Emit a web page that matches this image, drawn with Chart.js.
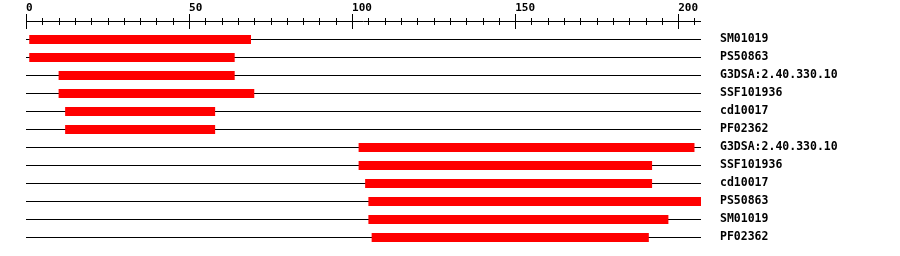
<!DOCTYPE html>
<html><head><meta charset="utf-8">
<script src="https://cdn.jsdelivr.net/npm/chart.js@4/dist/chart.umd.min.js"></script>
<style>html,body{margin:0;padding:0;background:#fff}#wrap{width:900px;height:256px}</style>
</head><body><div id="wrap"><canvas id="c" width="900" height="256"></canvas></div>
<script>
const labels = ['SM01019','PS50863','G3DSA:2.40.330.10','SSF101936','cd10017','PF02362','G3DSA:2.40.330.10','SSF101936','cd10017','PS50863','SM01019','PF02362'];
const domainStart = [1,1,10,10,12,12,102,102,104,105,105,106];
const domainEnd = [69,64,64,70,58,58,205,192,192,207,197,191];
const seqLength = 207;
const majorTicks = [0,50,100,150,200];
const minorTickStep = 5;

const axisPlugin = {
  id: 'seqAxis',
  afterDraw(chart) {
    const x = chart.scales.x, ctx = chart.ctx;
    ctx.save();
    ctx.strokeStyle = '#000';
    ctx.lineWidth = 1;
    ctx.beginPath();
    ctx.moveTo(Math.round(x.getPixelForValue(0)), 21.5);
    ctx.lineTo(Math.round(x.getPixelForValue(seqLength)), 21.5);
    for (let v = 0; v <= seqLength; v += minorTickStep) {
      const px = Math.round(x.getPixelForValue(v)) + 0.5;
      const major = majorTicks.includes(v);
      ctx.moveTo(px, major ? 14 : 18);
      ctx.lineTo(px, major ? 29 : 25);
    }
    ctx.stroke();
    ctx.restore();
  }
};

new Chart(document.getElementById('c'), {
  type: 'bar',
  data: {
    labels: labels,
    datasets: [
      {
        data: domainStart.map((s, i) => [s, domainEnd[i]]),
        backgroundColor: '#ff0000',
        borderWidth: 0,
        barThickness: 9,
        grouped: false,
        inflateAmount: 0,
        order: 0
      },
      {
        data: labels.map(() => [0, seqLength]),
        backgroundColor: '#000000',
        borderWidth: 0,
        barThickness: 1,
        grouped: false,
        inflateAmount: 0,
        order: 1
      }
    ]
  },
  options: {
    indexAxis: 'y',
    responsive: false,
    animation: false,
    devicePixelRatio: 1,
    layout: { padding: { left: 26, right: 0, top: 0, bottom: 9.5 } },
    plugins: { legend: { display: false }, tooltip: { enabled: false } },
    scales: {
      x: {
        type: 'linear',
        position: 'top',
        min: 0,
        max: seqLength,
        grid: { display: false, drawTicks: false },
        border: { display: false },
        ticks: {
          stepSize: 50,
          includeBounds: false,
          align: 'start',
          autoSkip: false,
          maxRotation: 0,
          padding: 15.5,
          color: '#000',
          font: { family: 'DejaVu Sans Mono', size: 11, weight: 'bold' }
        },
        afterFit: s => { s.height = 30.5; }
      },
      y: {
        type: 'category',
        position: 'right',
        grid: { display: false, drawTicks: true, tickLength: 19 },
        border: { display: false },
        ticks: {
          padding: 0,
          autoSkip: false,
          color: '#000',
          font: { family: 'DejaVu Sans Mono', size: 11.5, weight: 'bold' }
        },
        afterFit: s => { s.width = 199; }
      }
    }
  },
  plugins: [axisPlugin]
});
</script>
</body></html>
